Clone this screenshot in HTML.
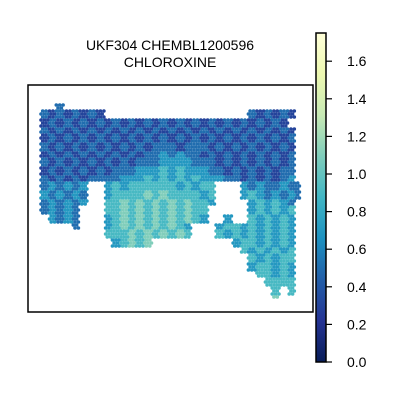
<!DOCTYPE html>
<html><head><meta charset="utf-8"><style>
body{margin:0;background:#fff}
svg{display:block;font-family:"Liberation Sans",sans-serif}
</style></head><body>
<svg id="chart" width="400" height="400" viewBox="0 0 400 400">
<defs>
<linearGradient id="cbgrad" x1="0" y1="1" x2="0" y2="0">
<stop offset="0" stop-color="#081d58"/><stop offset="0.125" stop-color="#253494"/><stop offset="0.25" stop-color="#225ea8"/><stop offset="0.375" stop-color="#1d91c0"/><stop offset="0.5" stop-color="#41b6c4"/><stop offset="0.625" stop-color="#7fcdbb"/><stop offset="0.75" stop-color="#c7e9b4"/><stop offset="0.875" stop-color="#edf8b1"/><stop offset="1" stop-color="#ffffd9"/>
</linearGradient>
</defs>
<text x="170" y="50" text-anchor="middle" font-size="14">UKF304 CHEMBL1200596</text>
<text x="170" y="67" text-anchor="middle" font-size="14">CHLOROXINE</text>
<g id="spots"></g>
<rect x="28" y="85" width="285" height="227" fill="none" stroke="#000" stroke-width="1.5"/>
<rect x="316" y="33" width="10" height="329" fill="url(#cbgrad)" stroke="#000" stroke-width="1.5"/>
<g id="cbticks"></g>
</svg>
<script>
const gridRows = [
"",
"..3",
"32323232..................323232",
"2323232323232323232323232323232",
"32323232323232323232323232323232",
"23232323232323232323232323232323",
"32323232323232333233323232323232",
"23232323232323343433232323232323",
"32323232323233344443332323232323",
"23232323233344454544433232323233",
"32323233334445454545444332323234",
"343434..45455555545455...43433433",
"434343..45555656555545...45434343",
"343434..55656565656554....454543",
"34343...5565656565655.....454545",
".4343...4565656565654..4..545454",
"....3...45656565654...4554545454",
"........55565656565...5454545454",
".........45656..........45545454",
".........................5454545",
"..........................545455",
"..........................455454",
"...........................55454",
"............................5555",
".............................5.5",
".............................6"
];
const digitOffset = 0.5;
const digitScale = 0.2;
const tickValues = [0.0, 0.2, 0.4, 0.6, 0.8, 1.0, 1.2, 1.4, 1.6];
const tickLabels = ["0.0","0.2","0.4","0.6","0.8","1.0","1.2","1.4","1.6"];
const vmax = 1.75;

const stops = ["#081d58","#253494","#225ea8","#1d91c0","#41b6c4","#7fcdbb","#c7e9b4","#edf8b1","#ffffd9"];
function hex2rgb(h){return [1,3,5].map(i=>parseInt(h.substr(i,2),16));}
function colorFor(v){
  let t=Math.max(0,Math.min(1,v/vmax))*(stops.length-1);
  let i=Math.min(stops.length-2,Math.floor(t)),f=t-i;
  let a=hex2rgb(stops[i]),b=hex2rgb(stops[i+1]);
  return "rgb("+a.map((x,k)=>Math.round(x+(b[k]-x)*f)).join(",")+")";
}
function cbY(v){return 362-(v/vmax)*329;}
const NS="http://www.w3.org/2000/svg";
const g=document.getElementById("spots");
const dx=3.4, dy=3.0;
let row=0;
for(let y=96;y<300;y+=dy,row++){
  for(let x=41+(row%2?dx/2:0);x<300;x+=dx){
    const r=Math.floor((y-95)/8), c=Math.floor((x-40)/8);
    const s=gridRows[r]||"";
    const ch=s[c];
    if(!ch||ch==="."||ch===" ") continue;
    const v=(parseInt(ch,10)-digitOffset)*digitScale;
    const e=document.createElementNS(NS,"circle");
    e.setAttribute("cx",x.toFixed(1));e.setAttribute("cy",y.toFixed(1));
    e.setAttribute("r","1.8");e.setAttribute("fill",colorFor(v));
    
    
    g.appendChild(e);
  }
}
const tg=document.getElementById("cbticks");
tickValues.forEach((v,i)=>{
  const y=cbY(v);
  const l=document.createElementNS(NS,"line");
  l.setAttribute("x1",326);l.setAttribute("x2",332);l.setAttribute("y1",y);l.setAttribute("y2",y);
  l.setAttribute("stroke","#000");l.setAttribute("stroke-width","1.2");
  
  
  tg.appendChild(l);
  const t=document.createElementNS(NS,"text");
  t.setAttribute("x",347);t.setAttribute("y",y+5);t.setAttribute("font-size","14");
  t.textContent=tickLabels[i];
  
  
  tg.appendChild(t);
});
</script>
</body></html>
